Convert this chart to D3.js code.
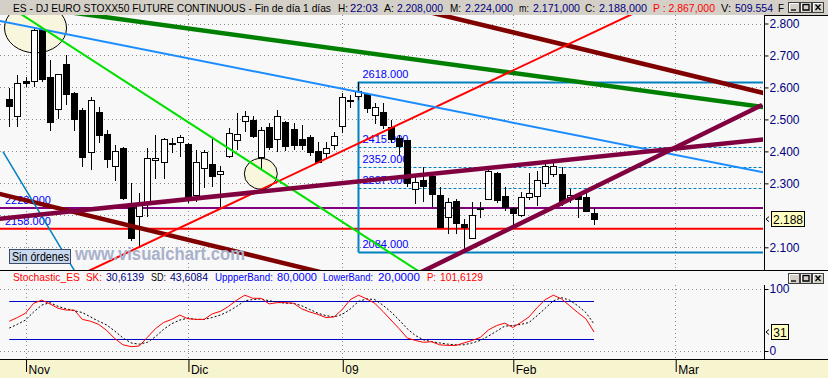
<!DOCTYPE html>
<html>
<head>
<meta charset="utf-8">
<title>ES - DJ EURO STOXX50 FUTURE CONTINUOUS</title>
<script src="https://cdn.jsdelivr.net/npm/d3@7"></script>
<style>
  body { margin: 0; background: #f8f8f8; }
  svg { display: block; font-family: "Liberation Sans", Arial, sans-serif; }
</style>
</head>
<body>
<svg id="chart" width="828" height="378"></svg>
<script>
// daily candles, 30 oct 2008 -> 13 feb 2009
var opens  = [2.564,2.512,2.620,2.621,2.783,2.632,2.532,2.673,2.583,2.529,2.397,2.524,2.454,2.355,2.411,2.238,2.199,2.241,2.372,2.366,
              2.422,2.428,2.422,2.264,2.347,2.360,2.330,2.386,2.435,2.495,2.498,2.383,2.475,2.440,2.491,2.470,2.439,2.444,2.401,2.394,
              2.420,2.480,2.558,2.573,2.580,2.513,2.524,2.477,2.441,2.436,2.281,2.310,2.323,2.264,2.196,2.245,2.173,2.128,2.222,2.251,
              2.333,2.260,2.224,2.201,2.256,2.261,2.300,2.328,2.328,2.256,2.262,2.258,2.208];
var highs  = [2.598,2.639,2.634,2.785,2.789,2.686,2.643,2.701,2.585,2.535,2.570,2.539,2.467,2.420,2.415,2.300,2.269,2.410,2.451,2.443,
              2.441,2.451,2.427,2.404,2.404,2.441,2.355,2.474,2.519,2.526,2.512,2.477,2.488,2.529,2.495,2.488,2.483,2.450,2.430,2.430,
              2.460,2.582,2.576,2.618,2.582,2.552,2.552,2.498,2.451,2.437,2.321,2.350,2.336,2.290,2.253,2.251,2.187,2.243,2.243,2.347,
              2.337,2.288,2.227,2.274,2.333,2.340,2.368,2.368,2.350,2.281,2.269,2.276,2.224];
var lows   = [2.476,2.475,2.602,2.602,2.618,2.465,2.500,2.545,2.465,2.352,2.342,2.426,2.349,2.307,2.248,2.121,2.097,2.194,2.313,2.313,
              2.394,2.381,2.238,2.243,2.286,2.290,2.227,2.378,2.404,2.462,2.441,2.342,2.404,2.399,2.401,2.404,2.404,2.385,2.364,2.378,
              2.404,2.458,2.535,2.561,2.519,2.485,2.469,2.425,2.389,2.290,2.234,2.243,2.227,2.162,2.141,2.142,2.084,2.125,2.191,2.250,
              2.237,2.214,2.159,2.196,2.248,2.229,2.288,2.319,2.230,2.238,2.191,2.212,2.171];
var closes = [2.542,2.613,2.615,2.780,2.626,2.493,2.641,2.580,2.502,2.383,2.561,2.450,2.375,2.401,2.255,2.130,2.232,2.378,2.378,2.438,
              2.427,2.444,2.250,2.366,2.397,2.324,2.338,2.457,2.453,2.512,2.449,2.467,2.413,2.512,2.418,2.420,2.420,2.397,2.368,2.411,
              2.449,2.569,2.560,2.590,2.535,2.538,2.483,2.438,2.418,2.302,2.303,2.292,2.267,2.164,2.241,2.177,2.164,2.201,2.224,2.339,
              2.248,2.227,2.206,2.256,2.269,2.310,2.355,2.355,2.243,2.263,2.250,2.214,2.188];

// stochastic
var skValues = [48,54,61,77,82,76,69,66,66,51,48,43,33,20,10,7,8,22,36,46,
                51,58,52,51,51,60,64,72,82,90,85,85,76,78,78,77,68,63,59,54,
                55,67,83,90,84,77,64,50,36,21,17,14,15,10,9,9,13,17,22,34,
                41,45,38,46,55,70,83,90,84,73,62,52,30.6];
var sdValues = [37,43,50,63,74,78,72,68,65,62,55,48,42,32,21,13,11,14,23,35,
                44,50,53,51,51,54,58,64,72,81,83,84,81,79,77,77,73,67,61,57,
                55,59,68,80,84,83,74,63,50,36,25,18,15,13,11,10,10,13,17,24,
                32,40,41,43,46,57,69,81,86,82,73,62,43.6];

var monthLabels = ["Nov", "Dic", "09", "Feb", "Mar"];
var monthIndex = [2, 22, 41, 62, 82];
var priceTicks = [2.1, 2.2, 2.3, 2.4, 2.5, 2.6, 2.7, 2.8];
var priceLabels = [2.1, 2.3, 2.4, 2.5, 2.6, 2.7, 2.8];
var stochTicks = [0, 100];
var bandLevels = [80, 20];

// drawing objects (index, price)
var fibStart = 43;
var fibLevels = [2.618, 2.415, 2.352, 2.287, 2.084];
var flatLevels = [2.223, 2.158];
var trendFrom = [[0,2.861],[50,2.846],[-2,2.272],[8,2.005],[-2,2.812],[0,2.853],[-0.78,2.399],[-2,2.187],[50,2.0136]];
var trendTo   = [[93,2.538],[93,2.582],[40,2.012],[80,2.869],[93,2.334],[52,1.999],[8.14,2.022],[93,2.438],[92.7,2.545]];
var ellipseCenter = [[3.23,2.786],[30.97,2.330]];
var ellipseRadius = [[3.82,0.078],[2.03,0.048]];

var lastPrice = 2.188, lastSK = 31;

var svg = d3.select("#chart");
var W = 828, H = 378;
var plotR = 763, axisX = 764;
var mainTop = 15, mainBot = 270, stochBot = 359;

var x = d3.scaleLinear().domain([0, 72]).range([9.3, 594]);
var y = d3.scaleLinear().domain([2.1, 2.8]).range([247.3, 23.5]);
var ys = d3.scaleLinear().domain([0, 100]).range([351, 289]);

svg.append("rect").attr("width", W).attr("height", H).attr("fill", "#f8f8f8");

var defs = svg.append("defs");
defs.append("clipPath").attr("id", "mainClip")
  .append("rect").attr("x", 0).attr("y", mainTop).attr("width", plotR).attr("height", mainBot - mainTop);

// ---- main panel grid
var main = svg.append("g").attr("clip-path", "url(#mainClip)");
main.selectAll(".hg").data(priceTicks).enter().append("line")
  .attr("x1", 0).attr("x2", plotR)
  .attr("y1", d => Math.round(y(d)) + 0.5).attr("y2", d => Math.round(y(d)) + 0.5)
  .attr("stroke", "#8a8a8a").attr("stroke-dasharray", "1,3");
main.selectAll(".vg").data(monthIndex).enter().append("line")
  .attr("x1", d => Math.round(x(d)) + 0.5).attr("x2", d => Math.round(x(d)) + 0.5)
  .attr("y1", mainTop).attr("y2", mainBot)
  .attr("stroke", "#8a8a8a").attr("stroke-dasharray", "1,3");

// ellipses (radii in index / price units)
main.selectAll(".ell").data(ellipseCenter).enter().append("ellipse")
  .attr("cx", d => x(d[0])).attr("cy", d => y(d[1]))
  .attr("rx", (d, i) => x(ellipseRadius[i][0]) - x(0))
  .attr("ry", (d, i) => y(2.1) - y(2.1 + ellipseRadius[i][1]))
  .attr("fill", "#f8f6dc").attr("stroke", "#000").attr("stroke-width", 1);

// flat levels
var flatColors = ["#800080", "#ff0000"];
flatLevels.forEach(function (lv, i) {
  main.append("line").attr("x1", 0).attr("x2", plotR)
    .attr("y1", y(lv)).attr("y2", y(lv))
    .attr("stroke", flatColors[i]).attr("stroke-width", 2);
  main.append("text").attr("x", 5).attr("y", y(lv) - 4)
    .attr("font-size", 11).attr("fill", "#0000ff").text(d3.format(".3f")(lv * 1000));
});

// fibo box
var fibColor = "#0080c0";
var fx = Math.round(x(fibStart)) + 0.5;
fibLevels.forEach(function (lv, i) {
  var edge = (i === 0 || i === fibLevels.length - 1);
  main.append("line").attr("x1", fx).attr("x2", plotR)
    .attr("y1", Math.round(y(lv)) + 0.5).attr("y2", Math.round(y(lv)) + 0.5)
    .attr("stroke", fibColor).attr("stroke-width", edge ? 2 : 1)
    .attr("stroke-dasharray", edge ? null : "3,2");
  main.append("text").attr("x", fx + 4).attr("y", y(lv) - 4)
    .attr("font-size", 11).attr("fill", "#0000ff").text(d3.format(".3f")(lv * 1000));
});
main.append("line").attr("x1", fx).attr("x2", fx)
  .attr("y1", y(fibLevels[0])).attr("y2", y(fibLevels[fibLevels.length - 1]))
  .attr("stroke", fibColor).attr("stroke-width", 2);

// candles
var candles = d3.range(opens.length).map(function (i) {
  return { i: i, o: opens[i], h: highs[i], l: lows[i], c: closes[i] };
});
var cg = main.selectAll(".candle").data(candles).enter().append("g");
cg.append("line")
  .attr("x1", d => Math.round(x(d.i)) + 0.5).attr("x2", d => Math.round(x(d.i)) + 0.5)
  .attr("y1", d => Math.round(y(d.h))).attr("y2", d => Math.round(y(d.l)))
  .attr("stroke", "#000");
cg.append("rect")
  .attr("x", d => Math.round(x(d.i)) - 2.5).attr("width", 6)
  .attr("y", d => Math.round(y(Math.max(d.o, d.c))) + 0.5)
  .attr("height", d => Math.max(1, Math.round(y(Math.min(d.o, d.c))) - Math.round(y(Math.max(d.o, d.c)))))
  .attr("fill", d => d.c >= d.o ? "#fff" : "#000").attr("stroke", "#000");

// trend lines
var trendColors = ["#008000", "#800000", "#800000", "#ff0000", "#1a8cff", "#00e000", "#0080c0", "#800040", "#800040"];
var trendWidths = [4.5, 4.5, 4.5, 2, 2, 2, 1.5, 4.5, 4.5];
trendFrom.forEach(function (p, k) {
  main.append("line")
    .attr("x1", x(p[0])).attr("y1", y(p[1]))
    .attr("x2", x(trendTo[k][0])).attr("y2", y(trendTo[k][1]))
    .attr("stroke", trendColors[k]).attr("stroke-width", trendWidths[k]);
});

// watermark & status box
main.append("text").attr("x", 75).attr("y", 260)
  .attr("font-size", 17.5).attr("font-weight", "bold").attr("fill", "#a9b1cc")
  .attr("textLength", 170).attr("lengthAdjust", "spacingAndGlyphs")
  .text("www.visualchart.com");
main.append("rect").attr("x", 9.5).attr("y", 249.5).attr("width", 61).attr("height", 14)
  .attr("fill", "#c8d8ee").attr("stroke", "#3c4c66");
main.append("text").attr("x", 12).attr("y", 261).attr("font-size", 12).attr("fill", "#000")
  .attr("textLength", 57).attr("lengthAdjust", "spacingAndGlyphs").text("Sin órdenes");

// ---- right price axis
var yAxis = d3.axisRight(y).tickValues(priceLabels).tickSize(4).tickFormat(d3.format(".3f"));
var ya = svg.append("g").attr("transform", "translate(" + (axisX + 0.5) + ",0)").call(yAxis);
ya.select(".domain").remove();
ya.selectAll("text").attr("font-size", 12).attr("fill", "#000080").attr("font-family", "Liberation Sans, Arial").attr("x", 5);
ya.selectAll("line").attr("stroke", "#000");
svg.append("line").attr("x1", axisX + 0.5).attr("x2", axisX + 0.5).attr("y1", mainTop).attr("y2", mainBot).attr("stroke", "#000");
svg.append("line").attr("x1", axisX).attr("x2", W).attr("y1", mainTop + 0.5).attr("y2", mainTop + 0.5).attr("stroke", "#000");

function lastMarker(yy, label, w) {
  svg.append("path").attr("d", "M769," + (yy - 2.5) + " L766," + yy + " L769," + (yy + 2.5))
    .attr("fill", "none").attr("stroke", "#000");
  svg.append("rect").attr("x", 771.5).attr("y", Math.round(yy) - 7.5).attr("width", w).attr("height", 15)
    .attr("fill", "#ffffc0").attr("stroke", "#000");
  svg.append("text").attr("x", 771.5 + w / 2).attr("y", Math.round(yy) + 4.5).attr("text-anchor", "middle")
    .attr("font-size", 12).attr("fill", "#000").text(label);
}
lastMarker(y(lastPrice), d3.format(".3f")(lastPrice), 33);

// ---- separator
svg.append("line").attr("x1", 0).attr("x2", W).attr("y1", mainBot + 0.5).attr("y2", mainBot + 0.5).attr("stroke", "#000");

// ---- stochastic panel
var st = svg.append("g");
st.selectAll(".shg").data(stochTicks).enter().append("line")
  .attr("x1", 0).attr("x2", plotR)
  .attr("y1", d => Math.round(ys(d)) + 0.5).attr("y2", d => Math.round(ys(d)) + 0.5)
  .attr("stroke", "#8a8a8a").attr("stroke-dasharray", "1,3");
st.selectAll(".svg").data(monthIndex).enter().append("line")
  .attr("x1", d => Math.round(x(d)) + 0.5).attr("x2", d => Math.round(x(d)) + 0.5)
  .attr("y1", 285).attr("y2", stochBot)
  .attr("stroke", "#8a8a8a").attr("stroke-dasharray", "1,3");
st.selectAll(".band").data(bandLevels).enter().append("line")
  .attr("x1", x(0)).attr("x2", x(72))
  .attr("y1", d => Math.round(ys(d)) + 0.5).attr("y2", d => Math.round(ys(d)) + 0.5)
  .attr("stroke", "#0000c8");
var sline = d3.line().x((d, i) => x(i)).y(d => ys(d));
st.append("path").datum(sdValues).attr("d", sline)
  .attr("fill", "none").attr("stroke", "#000").attr("stroke-dasharray", "2,2");
st.append("path").datum(skValues).attr("d", sline)
  .attr("fill", "none").attr("stroke", "#ff0000");

var sAxis = d3.axisRight(ys).tickValues(stochTicks).tickSize(4);
var sa = svg.append("g").attr("transform", "translate(" + (axisX + 0.5) + ",0)").call(sAxis);
sa.select(".domain").remove();
sa.selectAll("text").attr("font-size", 12).attr("fill", "#000080").attr("font-family", "Liberation Sans, Arial").attr("x", 5);
svg.append("line").attr("x1", axisX + 0.5).attr("x2", axisX + 0.5).attr("y1", 285).attr("y2", stochBot).attr("stroke", "#000");
lastMarker(ys(30.6), String(lastSK), 17);

// stochastic header
var stochHead = [
  ["Stochastic_ES", "#ff0000", 13, 67], ["SK:", "#ff0000", 86, 16], ["30,6139", "#000080", 106, 38],
  ["SD:", "#000", 151, 15], ["43,6084", "#000080", 170, 38],
  ["UppperBand:", "#0000ff", 215, 58], ["80,0000", "#0000ff", 277, 40],
  ["LowerBand:", "#0000ff", 323, 50], ["20,0000", "#0000ff", 378, 42],
  ["P:", "#ff0000", 427, 9], ["101,6129", "#ff0000", 440, 43]
];
svg.selectAll(".sh").data(stochHead).enter().append("text")
  .attr("x", d => d[2]).attr("y", 281).attr("font-size", 10.5).attr("fill", d => d[1])
  .attr("textLength", d => d[3]).attr("lengthAdjust", "spacingAndGlyphs").text(d => d[0]);

// ---- date axis
svg.append("rect").attr("x", 0).attr("y", stochBot + 1).attr("width", W).attr("height", H - stochBot - 1).attr("fill", "#f7f4d0");
svg.append("line").attr("x1", 0).attr("x2", W).attr("y1", stochBot + 0.5).attr("y2", stochBot + 0.5).attr("stroke", "#000");
var xAxis = d3.axisBottom(x).tickValues(monthIndex).tickSize(12).tickFormat((d, i) => monthLabels[i]);
var xa = svg.append("g").attr("transform", "translate(0.5," + (stochBot + 1) + ")").call(xAxis);
xa.select(".domain").remove();
xa.selectAll("line").attr("stroke", "#000");
xa.selectAll("text").attr("text-anchor", "start").attr("x", 2).attr("y", 5).attr("dy", "0.71em")
  .attr("font-size", 12).attr("fill", "#000").attr("font-family", "Liberation Sans, Arial");

// ---- title bar
svg.append("rect").attr("x", 0).attr("y", 0).attr("width", W).attr("height", mainTop).attr("fill", "#d4d0c8");
var navy = "#000080";
var headParts = [
  ["ES - DJ EURO STOXX50 FUTURE CONTINUOUS - Fin de día 1 días", "#000", 13, 318],
  ["H:", "#000", 338, 10], ["22:03", navy, 350, 28],
  ["A:", "#000", 384, 10], ["2.208,000", navy, 397, 46],
  ["M:", "#000", 450, 11], ["2.224,000", navy, 465, 48],
  ["m:", "#000", 519, 10], ["2.171,000", navy, 533, 47],
  ["C:", "#000", 585, 10], ["2.188,000", navy, 599, 48],
  ["P : 2.867,000", "#ff0000", 653, 62],
  ["V:", "#000", 721, 10], ["509.554", navy, 735, 38], ["F", "#000", 778, 6]
];
svg.selectAll(".hp").data(headParts).enter().append("text")
  .attr("x", d => d[2]).attr("y", 12).attr("font-size", d => d[3] > 100 ? 10 : 10.5).attr("fill", d => d[1])
  .attr("textLength", d => d[3]).attr("lengthAdjust", "spacingAndGlyphs").text(d => d[0]);

// window buttons
function buttons(top) {
  ["min", "max", "close"].forEach(function (kind, k) {
    var bx = 788 + k * 12;
    svg.append("rect").attr("x", bx + 0.5).attr("y", top + 0.5).attr("width", 11).attr("height", 10)
      .attr("fill", "#d4d0c8").attr("stroke", "#404040");
    svg.append("path").attr("d", "M" + (bx + 1.5) + "," + (top + 9.5) + " V" + (top + 1.5) + " H" + (bx + 10.5))
      .attr("fill", "none").attr("stroke", "#fff");
    var g = svg.append("path").attr("fill", "none").attr("stroke", "#000").attr("stroke-width", 1.3);
    if (kind === "min") g.attr("d", "M" + (bx + 3) + "," + (top + 8) + " H" + (bx + 8));
    if (kind === "max") g.attr("d", "M" + (bx + 3) + "," + (top + 2.5) + " H" + (bx + 9) + " V" + (top + 8) + " H" + (bx + 3) + " Z");
    if (kind === "close") g.attr("d", "M" + (bx + 3.5) + "," + (top + 2.5) + " L" + (bx + 8.5) + "," + (top + 8) +
      " M" + (bx + 8.5) + "," + (top + 2.5) + " L" + (bx + 3.5) + "," + (top + 8));
  });
}
buttons(2);
buttons(273);
</script>
</body>
</html>
